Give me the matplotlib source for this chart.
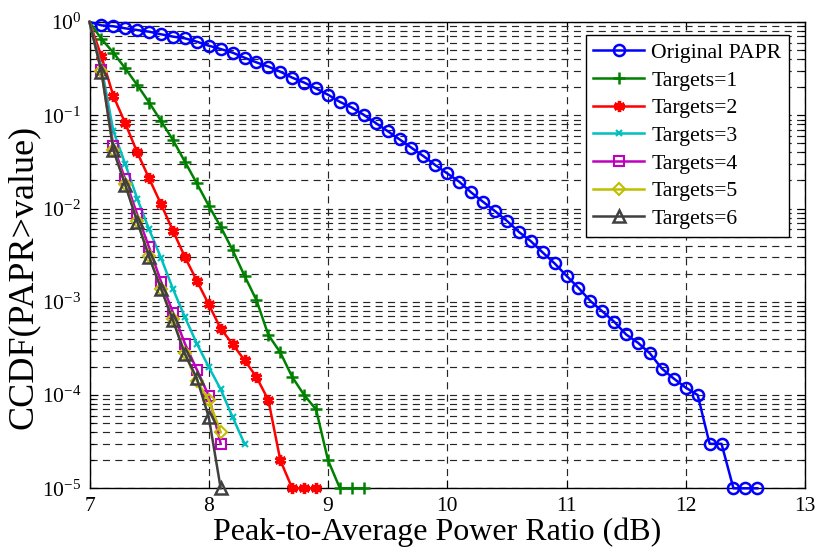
import matplotlib
matplotlib.use("Agg")
import matplotlib.pyplot as plt
import numpy as np
from matplotlib.ticker import LogLocator, FixedLocator, NullFormatter, FuncFormatter

plt.rcParams['font.family'] = ['Liberation Serif', 'DejaVu Serif']
plt.rcParams['mathtext.fontset'] = 'custom'
plt.rcParams['mathtext.rm'] = 'Liberation Serif'
plt.rcParams['mathtext.it'] = 'Liberation Serif:italic'

# ---------------- data ----------------
x_orig = [round(7.0 + 0.1 * i, 1) for i in range(57)]  # 7.0 .. 12.6
ccdf_orig = [1.0, 0.92, 0.90, 0.855, 0.82, 0.787, 0.738, 0.697, 0.668, 0.615,
             0.557, 0.513, 0.469, 0.414, 0.369, 0.332, 0.293, 0.253, 0.224, 0.194,
             0.166, 0.139, 0.121, 0.101, 0.0826, 0.0676, 0.0551, 0.0448, 0.0365, 0.0292,
             0.0238, 0.0194, 0.0149, 0.0118, 0.00938, 0.00738, 0.00562, 0.00447, 0.00338, 0.00258,
             0.0019, 0.00141, 0.00102, 0.00079, 0.00061, 0.000446, 0.000363, 0.000279, 0.000192, 0.00015,
             0.00012, 0.0001, 3e-5, 3e-5, 1e-5, 1e-5, 1e-5]

x_t1 = [round(7.0 + 0.1 * i, 1) for i in range(24)]  # 7.0 .. 9.3
ccdf_t1 = [1.0, 0.658, 0.469, 0.318, 0.211, 0.137, 0.0867, 0.0542, 0.0317, 0.0186,
           0.0107, 0.00637, 0.00358, 0.0019, 0.00104, 0.00044, 0.000286, 0.000156, 0.0001, 7e-5,
           2e-5, 1e-5, 1e-5, 1e-5]

x_t2 = [round(7.0 + 0.1 * i, 1) for i in range(20)]  # 7.0 .. 8.9
ccdf_t2 = [1.0, 0.427, 0.161, 0.0818, 0.040, 0.021, 0.0111, 0.00577, 0.00302, 0.00168,
           0.000935, 0.000516, 0.000351, 0.000236, 0.000156, 8.8e-5, 2e-5, 1e-5, 1e-5, 1e-5]

x_t3 = [round(7.0 + 0.1 * i, 1) for i in range(14)]  # 7.0 .. 8.3
ccdf_t3 = [1.0, 0.33, 0.0676, 0.0299, 0.0128, 0.00596, 0.00295, 0.00137, 0.000684, 0.000356,
           0.0002, 0.000115, 5.8e-5, 3e-5]

x_t4 = [round(7.0 + 0.1 * i, 1) for i in range(12)]  # 7.0 .. 8.1
ccdf_t4 = [1.0, 0.305, 0.0468, 0.0205, 0.00863, 0.00382, 0.00164, 0.000767, 0.000356, 0.000187,
           9.8e-5, 3e-5]

x_t5 = [round(7.0 + 0.1 * i, 1) for i in range(12)]
ccdf_t5 = [1.0, 0.295, 0.0427, 0.0182, 0.0074, 0.0031, 0.00138, 0.000646, 0.000279, 0.000142,
           8.8e-5, 4e-5]

x_t6 = [round(7.0 + 0.1 * i, 1) for i in range(12)]
ccdf_t6 = [1.0, 0.293, 0.0424, 0.0178, 0.00724, 0.00302, 0.00138, 0.00063, 0.000275, 0.000151,
           5.8e-5, 1e-5]

labels = ['Original PAPR', 'Targets=1', 'Targets=2', 'Targets=3',
          'Targets=4', 'Targets=5', 'Targets=6']

x_ticks = [7, 8, 9, 10, 11, 12, 13]

# ---------------- figure ----------------
fig = plt.figure(figsize=(8.19, 5.54), dpi=100)
ax = fig.add_axes([0.1093, 0.1186, 0.8736, 0.8417])

series = [
    (x_orig, ccdf_orig, dict(color='#0000FF', marker='o', ms=8, mfc='none', mew=1.8)),
    (x_t1, ccdf_t1, dict(color='#008000', marker='+', ms=9, mew=1.8)),
    (x_t2, ccdf_t2, dict(color='#FF0000', marker=(6, 2, 0), ms=8, mew=2.4)),
    (x_t3, ccdf_t3, dict(color='#00BFBF', marker='x', ms=4, mew=1.5)),
    (x_t4, ccdf_t4, dict(color='#BF00BF', marker='s', ms=7.5, mfc='none', mew=1.5)),
    (x_t5, ccdf_t5, dict(color='#BFBF00', marker='D', ms=6, mfc='none', mew=1.5)),
    (x_t6, ccdf_t6, dict(color='#404040', marker='^', ms=8.5, mfc='none', mew=1.8)),
]

for (xs, ys, st), lab in zip(series, labels):
    ax.semilogy(xs, ys, linewidth=1.8, markevery=list(range(1, len(xs))),
                label=lab, clip_on=False, zorder=3, **st)

ax.set_xlim(7, 13)
ax.set_ylim(1e-5, 1)
ax.xaxis.set_major_locator(FixedLocator(x_ticks))
ax.xaxis.set_major_formatter(FuncFormatter(lambda v, p: '%d' % v))
ax.yaxis.set_major_locator(LogLocator(base=10, numticks=10))
ax.yaxis.set_minor_locator(LogLocator(base=10, subs=np.arange(2, 10), numticks=20))
ax.yaxis.set_minor_formatter(NullFormatter())
ax.yaxis.set_major_formatter(FuncFormatter(lambda v, p: r'$10^{%d}$' % round(np.log10(v))))

ax.tick_params(which='both', direction='in', top=True, right=True, width=0.8)
ax.tick_params(which='major', length=6, labelsize=15.5)
ax.tick_params(which='minor', length=3)
ax.tick_params(axis='x', pad=6)
ax.tick_params(axis='y', pad=6)

grid_style = dict(color='0.15', linestyle=(0, (6, 4.5)), linewidth=0.85)
ax.grid(True, which='major', axis='both', **grid_style)
ax.grid(True, which='minor', axis='y', **grid_style)
ax.set_axisbelow(True)

for sp in ax.spines.values():
    sp.set_linewidth(1.0)
    sp.set_color('black')

ax.set_xlabel('Peak-to-Average Power Ratio (dB)', fontsize=23, labelpad=1)
ax.xaxis.label.set_x(0.4864)
ax.set_ylabel('CCDF(PAPR>value)', fontsize=26)
ax.yaxis.set_label_coords(-0.07, 0.453)

leg = ax.legend(loc='upper right', bbox_to_anchor=(0.9776, 0.972), borderaxespad=0,
                fontsize=15.7, fancybox=False, framealpha=1, edgecolor='black',
                handlelength=2.3, handletextpad=0.35, labelspacing=0.34,
                borderpad=0.35, markerscale=1.0)
leg.get_frame().set_linewidth(1.0)
leg.set_zorder(5)

fig.savefig('out.png', dpi=100)
